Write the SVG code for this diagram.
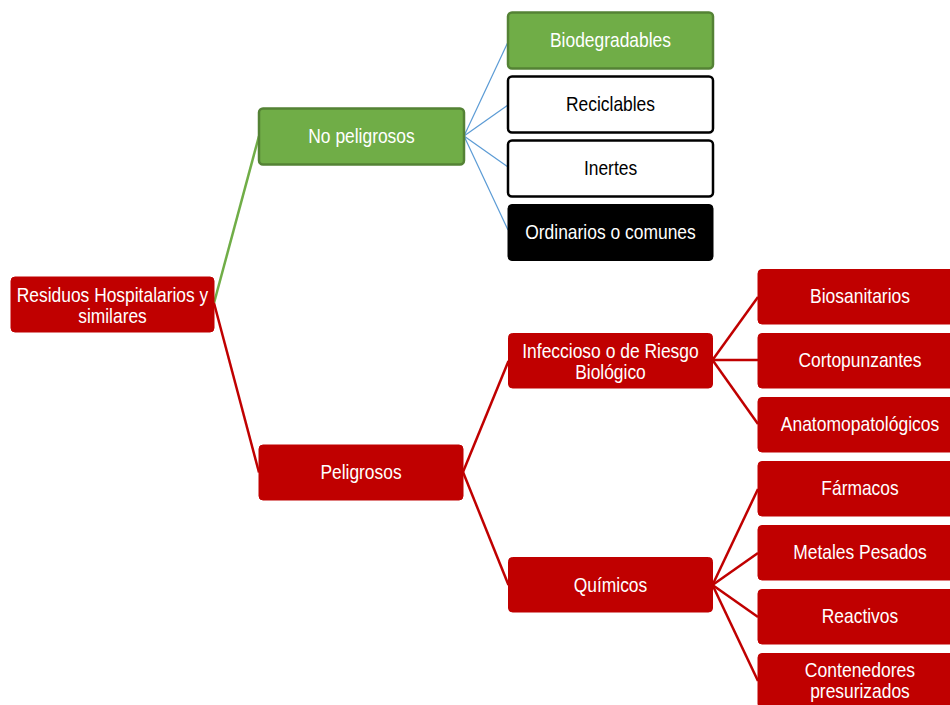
<svg xmlns="http://www.w3.org/2000/svg" width="950" height="705" viewBox="0 0 950 705">
<style>
  text { font-family: "Liberation Sans", Arial, sans-serif; font-size: 21px; text-anchor: middle; }
  .red rect { fill: #C00000; stroke: #C00000; stroke-width: 1; }
  .red text, .green text, .black text { fill: #FFFFFF; }
  .green rect { fill: #70AD47; stroke: #548235; stroke-width: 2.5; }
  .white rect { fill: #FFFFFF; stroke: #000000; stroke-width: 2.5; }
  .white text { fill: #000000; }
  .black rect { fill: #000000; stroke: #000000; stroke-width: 1; }
  .c-red { stroke: #C00000; stroke-width: 2.5; fill: none; }
  .c-green { stroke: #70AD47; stroke-width: 2.5; fill: none; }
  .c-blue { stroke: #5B9BD5; stroke-width: 1.2; fill: none; }
</style>
<rect x="0" y="0" width="950" height="705" fill="#FFFFFF"/>
<g id="connectors">
  <line class="c-green" x1="214" y1="303" x2="259" y2="136"/>
  <line class="c-red" x1="214" y1="303" x2="259" y2="472.5"/>
  <line class="c-blue" x1="464" y1="136" x2="508" y2="42"/>
  <line class="c-blue" x1="464" y1="136" x2="508" y2="105"/>
  <line class="c-blue" x1="464" y1="136" x2="508" y2="167"/>
  <line class="c-blue" x1="464" y1="136" x2="508" y2="230"/>
  <line class="c-red" x1="463" y1="472" x2="508.5" y2="361"/>
  <line class="c-red" x1="463" y1="472" x2="508.5" y2="585"/>
  <line class="c-red" x1="712.5" y1="360" x2="758" y2="297"/>
  <line class="c-red" x1="712.5" y1="360" x2="758" y2="360"/>
  <line class="c-red" x1="712.5" y1="360" x2="758" y2="424"/>
  <line class="c-red" x1="712.5" y1="585" x2="758" y2="489"/>
  <line class="c-red" x1="712.5" y1="585" x2="758" y2="553"/>
  <line class="c-red" x1="712.5" y1="585" x2="758" y2="617"/>
  <line class="c-red" x1="712.5" y1="585" x2="758" y2="681"/>
</g>
<g id="root" class="red">
  <rect x="11" y="277" width="203" height="55" rx="4"/>
  <text x="112.5" y="302" textLength="191.5" lengthAdjust="spacingAndGlyphs">Residuos Hospitalarios y</text>
  <text x="112.5" y="323" textLength="68.6" lengthAdjust="spacingAndGlyphs">similares</text>
</g>
<g id="no-peligrosos" class="green">
  <rect x="259" y="108.5" width="205" height="56" rx="4"/>
  <text x="361.5" y="143" textLength="106.4" lengthAdjust="spacingAndGlyphs">No peligrosos</text>
</g>
<g id="biodegradables" class="green">
  <rect x="508" y="12.5" width="205" height="56" rx="4"/>
  <text x="610.5" y="47" textLength="121" lengthAdjust="spacingAndGlyphs">Biodegradables</text>
</g>
<g id="reciclables" class="white">
  <rect x="508" y="76.5" width="205" height="56" rx="4"/>
  <text x="610.5" y="111" textLength="89" lengthAdjust="spacingAndGlyphs">Reciclables</text>
</g>
<g id="inertes" class="white">
  <rect x="508" y="140.5" width="205" height="56" rx="4"/>
  <text x="610.5" y="175" textLength="53.2" lengthAdjust="spacingAndGlyphs">Inertes</text>
</g>
<g id="ordinarios" class="black">
  <rect x="508" y="204.5" width="205" height="56" rx="4"/>
  <text x="610.5" y="239" textLength="170.5" lengthAdjust="spacingAndGlyphs">Ordinarios o comunes</text>
</g>
<g id="peligrosos" class="red">
  <rect x="259" y="445" width="204" height="55" rx="4"/>
  <text x="361" y="479" textLength="81.2" lengthAdjust="spacingAndGlyphs">Peligrosos</text>
</g>
<g id="infeccioso" class="red">
  <rect x="508.5" y="333.5" width="204" height="54.5" rx="4"/>
  <text x="610.5" y="357.5" textLength="176.5" lengthAdjust="spacingAndGlyphs">Infeccioso o de Riesgo</text>
  <text x="610.5" y="378.5" textLength="70.6" lengthAdjust="spacingAndGlyphs">Biológico</text>
</g>
<g id="quimicos" class="red">
  <rect x="508.5" y="557.5" width="204" height="54.5" rx="4"/>
  <text x="610.5" y="591.5" textLength="73.5" lengthAdjust="spacingAndGlyphs">Químicos</text>
</g>
<g id="biosanitarios" class="red">
  <rect x="758" y="269.5" width="204" height="54.5" rx="4"/>
  <text x="860" y="303" textLength="100" lengthAdjust="spacingAndGlyphs">Biosanitarios</text>
</g>
<g id="cortopunzantes" class="red">
  <rect x="758" y="333.5" width="204" height="54.5" rx="4"/>
  <text x="860" y="367" textLength="123" lengthAdjust="spacingAndGlyphs">Cortopunzantes</text>
</g>
<g id="anatomopatologicos" class="red">
  <rect x="758" y="397.5" width="204" height="54.5" rx="4"/>
  <text x="860" y="431" textLength="158.5" lengthAdjust="spacingAndGlyphs">Anatomopatológicos</text>
</g>
<g id="farmacos" class="red">
  <rect x="758" y="461.5" width="204" height="54.5" rx="4"/>
  <text x="860" y="495" textLength="77.3" lengthAdjust="spacingAndGlyphs">Fármacos</text>
</g>
<g id="metales" class="red">
  <rect x="758" y="525.5" width="204" height="54.5" rx="4"/>
  <text x="860" y="559" textLength="133.5" lengthAdjust="spacingAndGlyphs">Metales Pesados</text>
</g>
<g id="reactivos" class="red">
  <rect x="758" y="589.5" width="204" height="54.5" rx="4"/>
  <text x="860" y="623" textLength="76.4" lengthAdjust="spacingAndGlyphs">Reactivos</text>
</g>
<g id="contenedores" class="red">
  <rect x="758" y="653.5" width="204" height="54.5" rx="4"/>
  <text x="860" y="677" textLength="110.3" lengthAdjust="spacingAndGlyphs">Contenedores</text>
  <text x="860" y="698" textLength="99.6" lengthAdjust="spacingAndGlyphs">presurizados</text>
</g>
</svg>
